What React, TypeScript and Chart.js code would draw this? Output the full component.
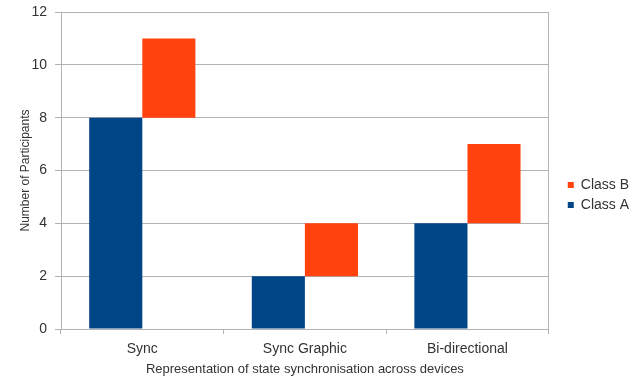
import React, { useEffect, useRef } from "react";
import { Chart, registerables } from "chart.js";

Chart.register(...registerables);

const categories = ["Sync", "Sync Graphic", "Bi-directional"];
const classA = [8, 2, 4];
const classB = [3, 2, 3];
const yTicks = [0, 2, 4, 6, 8, 10, 12];
const xTitle = "Representation of state synchronisation across devices";
const yTitle = "Number of Participants";

const FONT = "'Liberation Sans', Arial, Helvetica, sans-serif";
const TEXT = "#333333";
const GRID = "#b3b3b3";

export default function App() {
  const ref = useRef<HTMLCanvasElement>(null);

  useEffect(() => {
    const chart = new Chart(ref.current!, {
      type: "bar",
      data: {
        labels: categories,
        datasets: [
          {
            label: "Class A",
            data: classA,
            backgroundColor: "#004586",
            borderWidth: 0,
            categoryPercentage: 0.653,
            barPercentage: 1,
          },
          {
            label: "Class B",
            data: classB.map((v, i) => [classA[i], classA[i] + v]) as any,
            backgroundColor: "#ff420e",
            borderWidth: 0,
            categoryPercentage: 0.653,
            barPercentage: 1,
          },
        ],
      },
      options: {
        responsive: false,
        animation: false,
        layout: { padding: { top: 12, left: 0, right: 0, bottom: 0 } },
        plugins: {
          tooltip: { enabled: false },
          legend: {
            position: "right",
            reverse: true,
            labels: {
              boxWidth: 6,
              boxHeight: 6,
              padding: 6,
              color: TEXT,
              font: { family: FONT, size: 14 },
            },
          },
        },
        scales: {
          x: {
            grid: {
              display: true,
              drawOnChartArea: false,
              drawTicks: true,
              tickLength: 5,
              color: GRID,
              offset: true,
            },
            border: { display: true, color: GRID },
            ticks: { color: TEXT, padding: 7, font: { family: FONT, size: 14 } },
            title: {
              display: true,
              text: xTitle,
              color: TEXT,
              font: { family: FONT, size: 13 },
              padding: { top: 0, bottom: 1 },
            },
            afterFit: (s: any) => {
              s.height = 49;
            },
          },
          y: {
            min: 0,
            max: 12,
            grid: { color: GRID, tickLength: 6, drawTicks: true },
            border: { display: true, color: GRID },
            ticks: {
              color: TEXT,
              padding: 8,
              font: { family: FONT, size: 14, lineHeight: 0.5 },
            },
            afterBuildTicks: (s: any) => {
              s.ticks = yTicks.map((v) => ({ value: v }));
            },
            title: {
              display: true,
              text: yTitle,
              color: TEXT,
              font: { family: FONT, size: 12 },
              padding: { top: 18, bottom: 0 },
            },
            afterFit: (s: any) => {
              s.width = 61;
            },
          },
          yRight: {
            axis: "y",
            type: "linear",
            position: "right",
            min: 0,
            max: 1,
            grid: { display: false, drawOnChartArea: false, drawTicks: false },
            border: { display: true, color: GRID },
            ticks: { display: false },
            afterFit: (s: any) => {
              s.width = 13;
            },
          },
        } as any,
      },
    });
    return () => chart.destroy();
  }, []);

  return (
    <div
      style={{
        position: "fixed",
        left: 0,
        top: 0,
        width: 632,
        height: 378,
        overflow: "hidden",
        background: "#ffffff",
      }}
    >
      <canvas ref={ref} width={639} height={378} style={{ display: "block" }} />
    </div>
  );
}
